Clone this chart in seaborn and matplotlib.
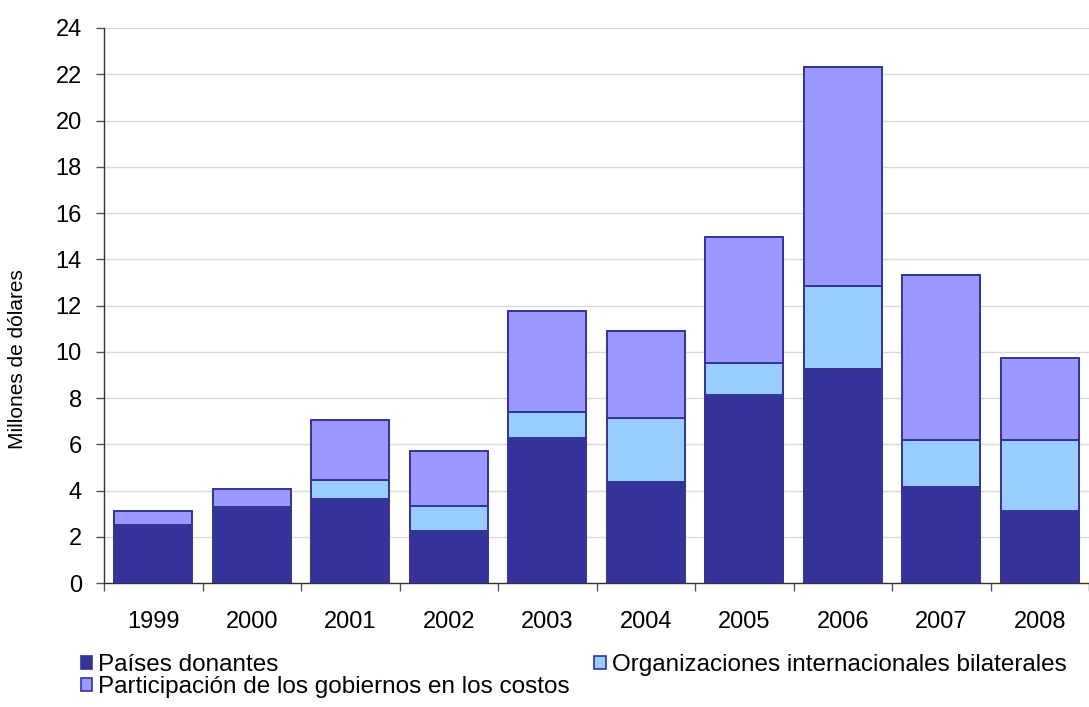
import numpy as np
import pandas as pd
import matplotlib
matplotlib.use("Agg")
import matplotlib.pyplot as plt
from matplotlib.patches import Patch
from matplotlib.ticker import FixedLocator
import seaborn as sns

years = ["1999", "2000", "2001", "2002", "2003", "2004", "2005", "2006", "2007", "2008"]
paises_donantes = [2.5, 3.3, 3.65, 2.25, 6.25, 4.35, 8.15, 9.25, 4.15, 3.1]
organizaciones = [0.0, 0.0, 0.8, 1.1, 1.15, 2.8, 1.35, 3.6, 2.05, 3.1]
participacion = [0.6, 0.75, 2.6, 2.35, 4.35, 3.75, 5.45, 9.45, 7.1, 3.55]

labels = ["Países donantes", "Organizaciones internacionales bilaterales",
          "Participación de los gobiernos en los costos"]
colors = ["#333399", "#99CCFF", "#9999FF"]
edge = "#333399"

sns.set_theme(style="white")
plt.rcParams["font.family"] = ["Liberation Sans", "DejaVu Sans"]
plt.rcParams["text.color"] = "black"
plt.rcParams["axes.labelcolor"] = "black"

fig = plt.figure(figsize=(10.89, 7.07), dpi=100)
ax = fig.add_axes([104 / 1089, 1 - 583 / 707, 985 / 1089, 555 / 707])

df = pd.DataFrame({"year": years, "a": paises_donantes, "b": organizaciones, "c": participacion})
bottom = np.zeros(len(years))
for col, color in zip(["a", "b", "c"], colors):
    sns.barplot(data=df, x="year", y=col, bottom=bottom, color=color, width=0.79,
                edgecolor=edge, linewidth=1.4, saturation=1, ax=ax, zorder=3)
    bottom = bottom + df[col].to_numpy()

ax.set_xlim(-0.5, len(years) - 0.5)
ax.set_ylim(0, 24)
ax.set_yticks(np.arange(0, 25, 2))
ax.yaxis.grid(True, color="#D9D9D9", linewidth=1.0, zorder=0)
ax.set_axisbelow(True)

for s in ["top", "right"]:
    ax.spines[s].set_visible(False)
for s in ["left", "bottom"]:
    ax.spines[s].set_color("#333333")
    ax.spines[s].set_linewidth(1.0)

ax.tick_params(axis="y", direction="out", length=6, width=1, color="#555555",
               labelsize=17, pad=10, left=True, labelcolor="black")
ax.tick_params(axis="x", which="major", length=0, pad=20, labelsize=17, labelcolor="black")
ax.xaxis.set_minor_locator(FixedLocator(np.arange(-0.5, len(years), 1.0)))
ax.tick_params(axis="x", which="minor", direction="out", length=6, width=1, color="#555555", bottom=True)

ax.set_xlabel("")
ax.set_ylabel("")
fig.text(18 / 1089, 1 - 359 / 707, "Millones de dólares", rotation=90, fontsize=15,
         ha="center", va="center", color="black")

handles = [Patch(facecolor=c, edgecolor=edge, linewidth=1.2) for c in colors]
order = [0, 2, 1]
fig.legend([handles[i] for i in order], [labels[i] for i in order],
           loc="upper left", bbox_to_anchor=(81 / 1089, 1 - 654 / 707), ncol=2, frameon=False,
           fontsize=17.5, handlelength=0.47, handleheight=0.47, handletextpad=0.25,
           columnspacing=1.0, labelspacing=0.0, borderaxespad=0, borderpad=0,
           labelcolor="black")

fig.savefig("out.png", dpi=100)
